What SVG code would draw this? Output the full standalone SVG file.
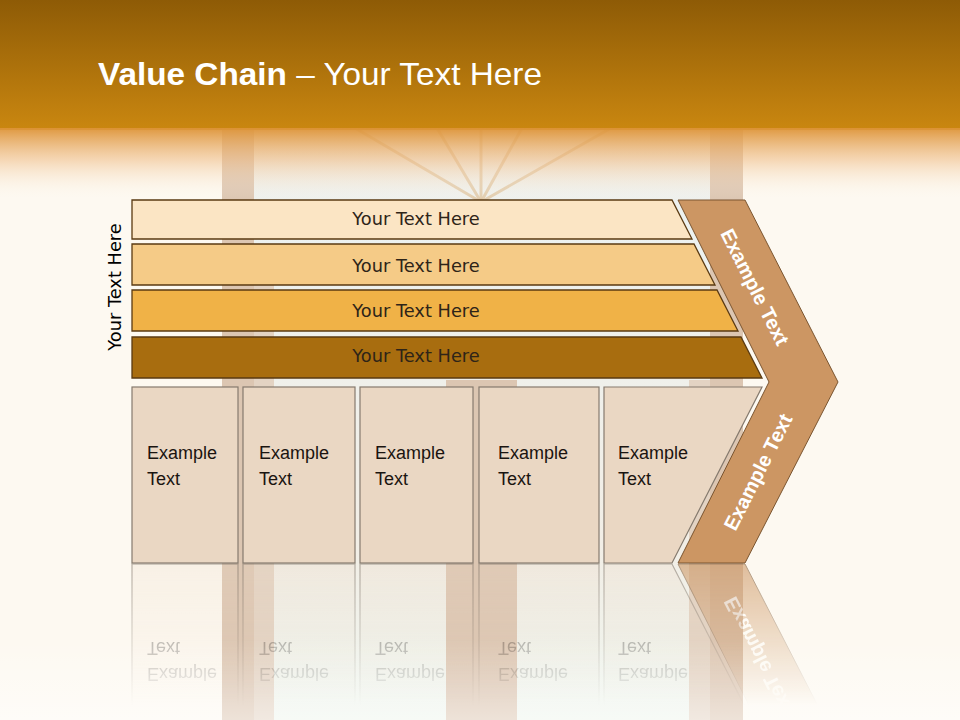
<svg xmlns="http://www.w3.org/2000/svg" width="960" height="720" viewBox="0 0 960 720">
<defs>
<linearGradient id="hdr" x1="0" y1="0" x2="0" y2="130" gradientUnits="userSpaceOnUse">
<stop offset="0" stop-color="#8E5B06"/>
<stop offset="1" stop-color="#CA8710"/>
</linearGradient>
<linearGradient id="fade" x1="0" y1="128" x2="0" y2="200" gradientUnits="userSpaceOnUse">
<stop offset="0" stop-color="#DD9336" stop-opacity="0.95"/>
<stop offset="0.45" stop-color="#EFBC85" stop-opacity="0.55"/>
<stop offset="1" stop-color="#FDF9F1" stop-opacity="0"/>
</linearGradient>
<linearGradient id="win" x1="0" y1="128" x2="0" y2="720" gradientUnits="userSpaceOnUse">
<stop offset="0" stop-color="#F3ECE2"/>
<stop offset="0.15" stop-color="#EDF2F0"/>
<stop offset="0.7" stop-color="#F2EEE6"/>
<stop offset="1" stop-color="#EFF5EE"/>
</linearGradient>
<linearGradient id="refl" x1="0" y1="563" x2="0" y2="705" gradientUnits="userSpaceOnUse">
<stop offset="0" stop-color="#fff" stop-opacity="0.6"/>
<stop offset="1" stop-color="#fff" stop-opacity="0"/>
</linearGradient>
<linearGradient id="bottomFade" x1="0" y1="640" x2="0" y2="720" gradientUnits="userSpaceOnUse">
<stop offset="0" stop-color="#FFFFFF" stop-opacity="0"/>
<stop offset="1" stop-color="#FFFFFF" stop-opacity="0.5"/>
</linearGradient>
<mask id="reflMask" maskUnits="userSpaceOnUse" x="0" y="563" width="960" height="157">
<rect x="0" y="563" width="960" height="157" fill="url(#refl)"/>
</mask>
<style>
.bar{stroke:#5A3A12;stroke-width:1.3}
.box{fill:#EAD7C3;stroke:#857A6E;stroke-width:1.2}
.chev{fill:#CC9663;stroke:#7A5530;stroke-width:1}
.bt{font-family:"DejaVu Sans","Liberation Sans",sans-serif;font-size:17.8px;fill:#2E2418;text-anchor:middle}
.et{font-family:"Liberation Sans",Arial,sans-serif;font-size:18px;fill:#1A1410}
.ct{font-family:"Liberation Sans",Arial,sans-serif;font-size:20px;font-weight:bold;fill:#FFFFFF;text-anchor:middle}
.pil{fill:#DCC6B2}
.ray{stroke:#E0C6A2;stroke-width:3;opacity:0.8}
</style>
</defs>

<g id="background">
<rect x="0" y="0" width="960" height="720" fill="#FDF9F1"/>
<rect x="222" y="128" width="521" height="592" fill="url(#win)"/>
<line class="ray" x1="481" y1="202" x2="355" y2="128"/>
<line class="ray" x1="481" y1="202" x2="437" y2="128"/>
<line class="ray" x1="481" y1="202" x2="481" y2="128"/>
<line class="ray" x1="481" y1="202" x2="522" y2="128"/>
<line class="ray" x1="481" y1="202" x2="611" y2="128"/>
<rect class="pil" x="222" y="128" width="32" height="592"/>
<rect class="pil" x="710" y="128" width="33" height="592"/>
<rect x="254" y="285" width="20" height="435" fill="#E3D3C3"/>
<rect class="pil" x="446" y="380" width="71" height="340"/>
<rect x="689" y="380" width="21" height="340" fill="#E3D3C3"/>
<rect x="0" y="640" width="960" height="80" fill="url(#bottomFade)"/>
<rect x="0" y="0" width="960" height="130" fill="url(#hdr)"/>
<rect x="0" y="128" width="960" height="72" fill="url(#fade)"/>
</g>

<g id="title">
<text x="98" y="85" font-family="Liberation Sans, Arial, sans-serif" font-size="32" fill="#FFFFFF" textLength="444" lengthAdjust="spacingAndGlyphs"><tspan font-weight="bold">Value Chain</tspan> – Your Text Here</text>
</g>

<g id="reflection" mask="url(#reflMask)">
<g transform="translate(0,1127) scale(1,-1)">
<rect class="box" x="132" y="387" width="106" height="176" fill-opacity="0.4"/>
<rect class="box" x="243" y="387" width="112" height="176" fill-opacity="0.4"/>
<rect class="box" x="360" y="387" width="113" height="176" fill-opacity="0.4"/>
<rect class="box" x="479" y="387" width="120" height="176" fill-opacity="0.4"/>
<polygon class="box" points="604,387 762,387 672,563 604,563" fill-opacity="0.4"/>
<polygon class="chev" points="678,563 745,563 838,382 769,382"/>
<text class="et" x="147" y="459">Example</text><text class="et" x="147" y="485">Text</text>
<text class="et" x="259" y="459">Example</text><text class="et" x="259" y="485">Text</text>
<text class="et" x="375" y="459">Example</text><text class="et" x="375" y="485">Text</text>
<text class="et" x="498" y="459">Example</text><text class="et" x="498" y="485">Text</text>
<text class="et" x="618" y="459">Example</text><text class="et" x="618" y="485">Text</text>
<text class="ct" transform="translate(758,472) rotate(-63.2)" y="7">Example Text</text>
</g>
</g>

<g id="side-label">
<text class="bt" transform="translate(121,287) rotate(-90)" style="fill:#000">Your Text Here</text>
</g>

<g id="bar1">
<polygon class="bar" points="132,200 672,200 692,239 132,239" fill="#FBE5C4"/>
<text class="bt" x="416" y="225">Your Text Here</text>
</g>
<g id="bar2">
<polygon class="bar" points="132,244 694,244 715,285 132,285" fill="#F5CB87"/>
<text class="bt" x="416" y="272">Your Text Here</text>
</g>
<g id="bar3">
<polygon class="bar" points="132,290 717,290 738,331 132,331" fill="#F0B247"/>
<text class="bt" x="416" y="317">Your Text Here</text>
</g>
<g id="bar4">
<polygon class="bar" points="132,337 741,337 762,378 132,378" fill="#A86D0F"/>
<text class="bt" x="416" y="362">Your Text Here</text>
</g>

<g id="chevron">
<polygon class="chev" points="678,200 745,200 838,382 745,563 678,563 769,382"/>
<text class="ct" transform="translate(755,287) rotate(63.2)" y="7">Example Text</text>
<text class="ct" transform="translate(758,472) rotate(-63.2)" y="7">Example Text</text>
</g>

<g id="box1">
<rect class="box" x="132" y="387" width="106" height="176"/>
<text class="et" x="147" y="459">Example</text><text class="et" x="147" y="485">Text</text>
</g>
<g id="box2">
<rect class="box" x="243" y="387" width="112" height="176"/>
<text class="et" x="259" y="459">Example</text><text class="et" x="259" y="485">Text</text>
</g>
<g id="box3">
<rect class="box" x="360" y="387" width="113" height="176"/>
<text class="et" x="375" y="459">Example</text><text class="et" x="375" y="485">Text</text>
</g>
<g id="box4">
<rect class="box" x="479" y="387" width="120" height="176"/>
<text class="et" x="498" y="459">Example</text><text class="et" x="498" y="485">Text</text>
</g>
<g id="box5">
<polygon class="box" points="604,387 762,387 672,563 604,563"/>
<text class="et" x="618" y="459">Example</text><text class="et" x="618" y="485">Text</text>
</g>

<g id="connectors"/>
</svg>
